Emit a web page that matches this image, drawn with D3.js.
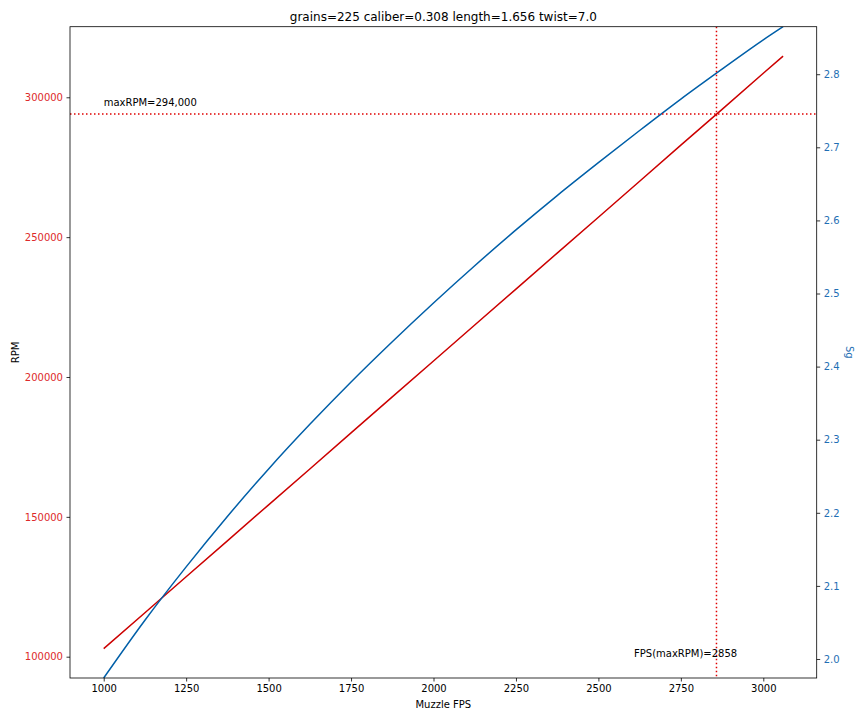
<!DOCTYPE html>
<html>
<head>
<meta charset="utf-8">
<script src="https://cdn.jsdelivr.net/npm/d3@7"></script>
<style>
  html, body { margin: 0; padding: 0; background: #fff; }
  svg { display: block; font-family: "DejaVu Sans", sans-serif; }
</style>
</head>
<body>
<svg id="chart" width="864" height="720"></svg>
<script>
// ---- data ----
const title = "grains=225 caliber=0.308 length=1.656 twist=7.0";
const fps = [1000, 1125, 1250, 1375, 1500, 1625, 1750, 1875, 2000, 2125, 2250, 2375, 2500, 2625, 2750, 2875, 3000, 3060];
const rpm = [102900, 115700, 128600, 141400, 154300, 167100, 180000, 192900, 205700, 218600, 231400, 244300, 257100, 270000, 282900, 295700, 308600, 314700];
const sg  = [1.974, 2.053, 2.126, 2.195, 2.260, 2.321, 2.379, 2.434, 2.487, 2.538, 2.587, 2.634, 2.679, 2.723, 2.766, 2.807, 2.847, 2.865];
const xTicks = [1000, 1250, 1500, 1750, 2000, 2250, 2500, 2750, 3000];
const rpmTicks = [100000, 150000, 200000, 250000, 300000];
const sgTicks = [2.0, 2.1, 2.2, 2.3, 2.4, 2.5, 2.6, 2.7, 2.8];
const maxRPM = 294000;
const fpsAtMax = 2858;
const maxRPMLabel = "maxRPM=294,000";
const fpsLabel = "FPS(maxRPM)=2858";

// ---- layout ----
const L = 70, R = 816.7, T = 26.7, B = 678;
const svg = d3.select("#chart");

const x = d3.scaleLinear().domain([897.8, 3161.9]).range([L, R]);
const yL = d3.scaleLinear().domain([92385, 325240]).range([B, T]);
const yR = d3.scaleLinear().domain([1.974, 2.865]).range([B, T]);

const redLine = "#cc0000", blueLine = "#005fa8";
const redTick = "#dd2a2a", blueTick = "#1f6fb4";

svg.append("defs").append("clipPath").attr("id", "clip")
  .append("rect").attr("x", L).attr("y", T).attr("width", R - L).attr("height", B - T);

const plot = svg.append("g").attr("clip-path", "url(#clip)");

// RPM line
plot.append("path")
  .datum(fps.map((f, i) => [f, rpm[i]]))
  .attr("fill", "none").attr("stroke", redLine).attr("stroke-width", 1.5)
  .attr("d", d3.line().x(d => x(d[0])).y(d => yL(d[1])));

// Sg line
plot.append("path")
  .datum(fps.map((f, i) => [f, sg[i]]))
  .attr("fill", "none").attr("stroke", blueLine).attr("stroke-width", 1.5)
  .attr("d", d3.line().curve(d3.curveMonotoneX).x(d => x(d[0])).y(d => yR(d[1])));

// dotted reference lines
plot.append("line")
  .attr("x1", L).attr("x2", R).attr("y1", yL(maxRPM)).attr("y2", yL(maxRPM))
  .attr("stroke", "#e00000").attr("stroke-width", 1.5).attr("stroke-dasharray", "1.5,2.5");
plot.append("line")
  .attr("x1", x(fpsAtMax)).attr("x2", x(fpsAtMax)).attr("y1", T).attr("y2", B)
  .attr("stroke", "#e00000").attr("stroke-width", 1.5).attr("stroke-dasharray", "1.5,2.5");

// annotations
svg.append("text").attr("x", x(1000)).attr("y", yL(maxRPM * 1.01))
  .attr("font-size", 10).attr("fill", "#000").text(maxRPMLabel);
svg.append("text").attr("x", x(fpsAtMax - 250)).attr("y", yL(100000))
  .attr("font-size", 10).attr("fill", "#000").text(fpsLabel);

// axes
const xAxis = svg.append("g").attr("transform", `translate(0,${B})`)
  .call(d3.axisBottom(x).tickValues(xTicks).tickSize(3.5).tickPadding(3.5).tickFormat(d3.format("d")));
const leftAxis = svg.append("g").attr("transform", `translate(${L},0)`)
  .call(d3.axisLeft(yL).tickValues(rpmTicks).tickSize(3.5).tickPadding(3.5).tickFormat(d3.format("d")));
const rightAxis = svg.append("g").attr("transform", `translate(${R},0)`)
  .call(d3.axisRight(yR).tickValues(sgTicks).tickSize(3.5).tickPadding(3.5).tickFormat(d3.format(".1f")));

[xAxis, leftAxis, rightAxis].forEach(g => {
  g.select(".domain").remove();
  g.selectAll(".tick line").attr("stroke", "#000").attr("stroke-width", 0.8);
  g.selectAll(".tick text").attr("font-size", 10).attr("font-family", "DejaVu Sans, sans-serif");
});
xAxis.selectAll(".tick text").attr("fill", "#000");
leftAxis.selectAll(".tick text").attr("fill", redTick);
rightAxis.selectAll(".tick text").attr("fill", blueTick);

// frame
svg.append("rect").attr("x", L).attr("y", T).attr("width", R - L).attr("height", B - T)
  .attr("fill", "none").attr("stroke", "#000").attr("stroke-width", 0.8);

// labels
svg.append("text").attr("x", (L + R) / 2).attr("y", 21).attr("text-anchor", "middle")
  .attr("font-size", 12).attr("fill", "#000").text(title);
svg.append("text").attr("x", (L + R) / 2).attr("y", 708).attr("text-anchor", "middle")
  .attr("font-size", 10).attr("fill", "#000").text("Muzzle FPS");
svg.append("text").attr("transform", `translate(19,${(T + B) / 2}) rotate(-90)`)
  .attr("text-anchor", "middle").attr("font-size", 10).attr("fill", "#000").text("RPM");
svg.append("text").attr("transform", `translate(846,${(T + B) / 2}) rotate(90)`)
  .attr("text-anchor", "middle").attr("font-size", 10).attr("fill", blueTick).text("Sg");
</script>
</body>
</html>
